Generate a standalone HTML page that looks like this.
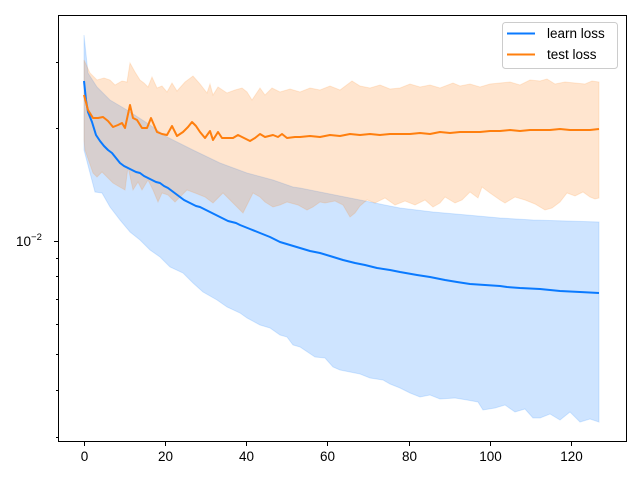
<!DOCTYPE html>
<html><head><meta charset="utf-8"><style>
body{margin:0;background:#fff}
svg{display:block;font-family:"Liberation Sans","DejaVu Sans",sans-serif}
</style></head><body>
<svg width="640" height="480" viewBox="0 0 640 480" xmlns="http://www.w3.org/2000/svg">
<rect width="640" height="480" fill="#fff"/>
<polygon fill="#0a7aff" fill-opacity="0.2" stroke="#0a7aff" stroke-opacity="0.15" points="84,35 88,73 97,87 110,100 127,110 147,123 167,137 193,150 220,163 247,173 273,180 293,187 300,188 320,192 350,198 400,208 433,212 467,215 500,218 533,220 567,221 599,222 599,422 590,419 580,422 570,412 560,420 550,414 540,418 533,418 525,409 515,412 505,405 495,408 483,410 478,402 467,400 455,398 440,399 430,395 420,397 410,393 400,388 390,384 383,380 370,378 360,374 350,372 340,370 333,367 325,358 315,357 300,347 293,345 287,337 280,335 270,328 260,325 247,318 240,313 227,307 217,300 203,292 193,283 183,273 170,267 160,257 150,250 140,240 130,232 120,220 110,207 102,193 95,192 90,173 84,150"/>
<polygon fill="#ff7f0e" fill-opacity="0.2" stroke="#ff7f0e" stroke-opacity="0.15" points="84,60 90,73 97,80 104,78 110,80 115,85 122,81 127,82 130,63 135,72 140,80 144,83 148,87 152,77 157,88 162,86 167,92 172,83 177,91 185,82 193,76 200,84 207,93 210,84 213,95 218,87 227,93 235,90 242,88 247,92 252,100 260,88 265,95 272,88 280,92 290,89 300,92 310,88 320,90 330,86 340,90 352,81 360,86 370,88 380,85 390,89 400,88 410,84 420,87 430,85 440,88 453,83 460,86 470,84 480,87 490,84 500,83 510,82 520,85 530,80 540,81 547,79 555,84 565,82 575,83 585,84 592,81 599,82 599,198 595,199 590,197 583,192 575,196 567,193 560,202 552,208 545,210 535,204 525,200 515,197 505,203 500,200 490,193 482,187 478,198 470,192 462,200 455,203 445,197 440,203 433,207 425,200 415,205 405,201 395,205 385,198 375,203 367,200 360,206 355,213 350,217 343,205 335,201 325,203 320,202 313,207 307,210 298,205 287,202 280,205 273,207 265,202 260,197 253,193 243,213 235,205 223,193 213,203 205,197 195,193 187,190 180,197 175,202 168,195 162,193 158,202 153,190 148,180 142,190 138,182 133,190 128,167 125,190 118,186 113,183 107,177 102,172 97,177 93,173 85,150 84,140"/>
<polyline fill="none" stroke="#0a7aff" stroke-width="2" stroke-linejoin="round" points="84,81 86,100 88,112 92,122 96,135 100,141 104,146 108,150 112,153 116,158 120,163 124,166 128,168 132,170 136,172 140,173 144,176 148,178 152,180 156,182 160,183 164,186 168,188 172,191 176,194 180,197 184,200 188,202 192,204 196,206 200,207 204,209 208,211 212,213 216,215 220,217 224,219 228,221 232,222 236,223 240,225 250,229 260,233 270,237 280,242 290,245 300,248 310,251 320,253 330,256 343,260 355,263 365,265 377,268 390,270 400,272 417,275 430,277 445,280 457,282 470,284 485,285 500,286 507,287 520,288 540,289 560,291 580,292 599,293"/>
<polyline fill="none" stroke="#ff7f0e" stroke-width="2" stroke-linejoin="round" points="84,95 88,110 93,118 98,118 103,117 108,121 113,127 118,125 122,123 125,128 130,105 133,118 137,120 142,128 147,128 151,118 157,132 162,134 167,135 172,126 177,136 183,132 188,127 192,122 196,126 200,132 205,138 210,131 213,140 218,132 222,138 228,138 233,138 238,135 244,138 250,141 255,138 260,134 265,137 273,135 278,137 282,134 287,138 295,137 300,137 310,136 320,137 330,135 340,136 350,134 360,135 370,134 380,135 390,134 400,134 410,134 420,133 430,134 440,132 450,133 460,132 470,132 480,132 490,131 500,131 510,130 520,131 530,130 540,130 550,130 560,129 570,130 580,130 590,130 599,129"/>
<rect x="58.5" y="15.5" width="568" height="426" fill="none" stroke="#000" stroke-width="1"/>
<g stroke="#000" stroke-width="1">
<line x1="54" y1="241.5" x2="58" y2="241.5"/>
<line x1="56" y1="62.5" x2="58" y2="62.5"/>
<line x1="56" y1="128.5" x2="58" y2="128.5"/>
<line x1="56" y1="258.5" x2="58" y2="258.5"/>
<line x1="56" y1="276.5" x2="58" y2="276.5"/>
<line x1="56" y1="299.5" x2="58" y2="299.5"/>
<line x1="56" y1="324.5" x2="58" y2="324.5"/>
<line x1="56" y1="354.5" x2="58" y2="354.5"/>
<line x1="56" y1="390.5" x2="58" y2="390.5"/>
<line x1="56" y1="437.5" x2="58" y2="437.5"/>
<line x1="84.5" y1="442" x2="84.5" y2="446"/>
<line x1="165.5" y1="442" x2="165.5" y2="446"/>
<line x1="246.5" y1="442" x2="246.5" y2="446"/>
<line x1="327.5" y1="442" x2="327.5" y2="446"/>
<line x1="409.5" y1="442" x2="409.5" y2="446"/>
<line x1="490.5" y1="442" x2="490.5" y2="446"/>
<line x1="571.5" y1="442" x2="571.5" y2="446"/>
</g>
<g font-size="13.5" fill="#000" text-anchor="middle">
<text x="84.5" y="461">0</text>
<text x="165.5" y="461">20</text>
<text x="246.5" y="461">40</text>
<text x="327.5" y="461">60</text>
<text x="409.5" y="461">80</text>
<text x="490.5" y="461">100</text>
<text x="571.5" y="461">120</text>
</g>
<text x="16" y="246" font-size="13.5">10<tspan dy="-6" font-size="9.5">−2</tspan></text>
<rect x="502.5" y="22.5" width="115" height="46" rx="3" fill="#fff" fill-opacity="0.8" stroke="#ccc"/>
<line x1="507" y1="33.5" x2="535" y2="33.5" stroke="#0a7aff" stroke-width="2"/>
<line x1="507" y1="54.5" x2="535" y2="54.5" stroke="#ff7f0e" stroke-width="2"/>
<text x="547" y="38" font-size="13.5">learn loss</text>
<text x="547" y="59" font-size="13.5">test loss</text>
</svg>
</body></html>
